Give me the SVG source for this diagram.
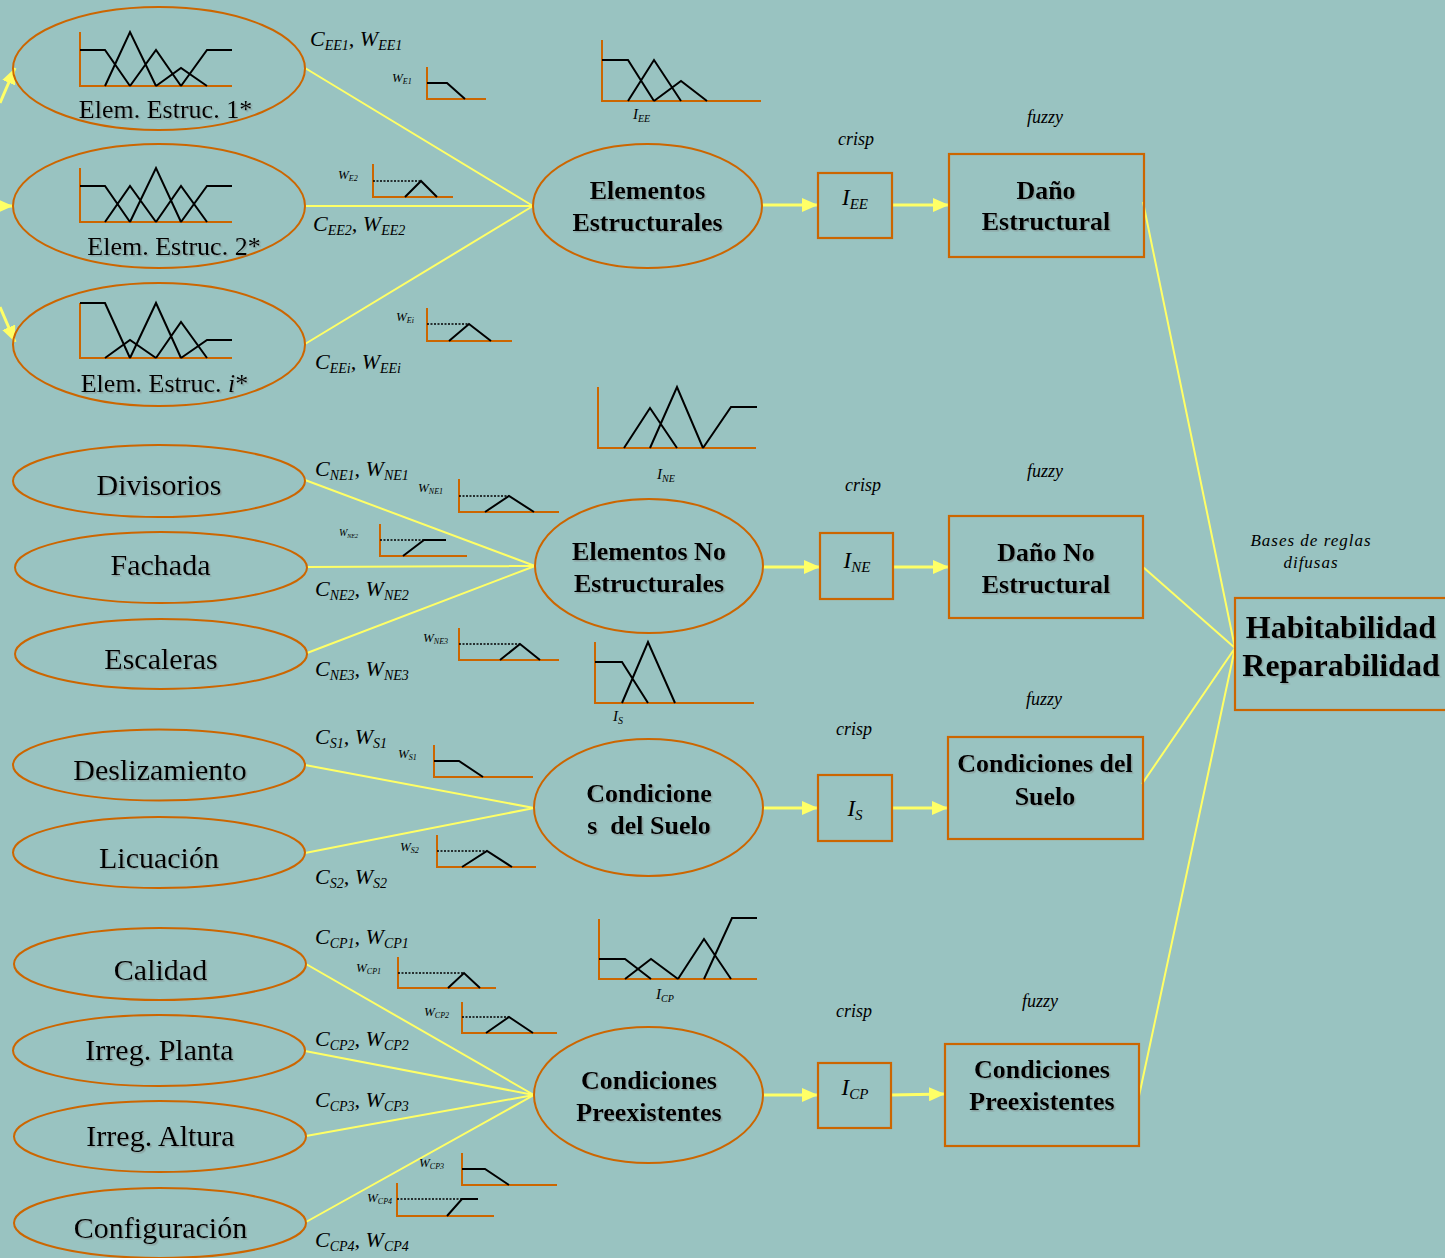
<svg xmlns="http://www.w3.org/2000/svg" width="1445" height="1258" viewBox="0 0 1445 1258">
<defs>
<marker id="ah" markerUnits="userSpaceOnUse" markerWidth="16" markerHeight="14" refX="16" refY="7" orient="auto"><path d="M0,0 L16,7 L0,14 z" fill="#FFFF66"/></marker>
<filter id="sh" x="-5%" y="-5%" width="110%" height="120%"><feDropShadow dx="1.5" dy="1.5" stdDeviation="0" flood-color="#777" flood-opacity="0.45"/></filter>
<style>
.bg{fill:#99C3C1}
.el{fill:none;stroke:#CC6600;stroke-width:2}
.bx{fill:none;stroke:#CC6600;stroke-width:2.2}
.ln{stroke:#FFFF66;stroke-width:2;fill:none}
.ar{stroke:#FFFF66;stroke-width:3;fill:none;marker-end:url(#ah)}
.ax{stroke:#CC6600;stroke-width:2;fill:none}
.cv{stroke:#000;stroke-width:2;fill:none}
.dt{stroke:#000;stroke-width:1.3;fill:none;stroke-dasharray:2 1.5}
.t{font-family:"Liberation Serif","Times New Roman",serif;fill:#000}
.lab{font-size:30px;text-anchor:middle;filter:url(#sh)}
.lab2{font-size:26px;text-anchor:middle;filter:url(#sh)}
.bd{font-size:26px;font-weight:bold;text-anchor:middle;filter:url(#sh)}
.big{font-size:32px}
.it{font-style:italic}
.cw{font-size:22px;font-style:italic}
.sw{font-size:13px;font-style:italic}
.sm{font-size:18px;font-style:italic}
.ib{font-size:23px;font-style:italic;text-anchor:middle}
.il{font-size:15px;font-style:italic}
</style>
</defs>
<rect class="bg" x="0" y="0" width="1445" height="1258"/>

<g id="connectors">
<path class="ar" d="M0,103 L15,68"/>
<path class="ar" d="M-5,206 L13,206"/>
<path class="ar" d="M0,307 L15,342"/>
<path class="ln" d="M305,68 L533,206 M305,206 L533,206 M305,344 L533,206"/>
<path class="ln" d="M305,480 L535,566 M307,567 L535,566 M307,653 L535,566"/>
<path class="ln" d="M305,765 L534,808 M305,853 L534,808"/>
<path class="ln" d="M306,964 L534,1095 M305,1051 L534,1095 M306,1136 L534,1095 M306,1222 L534,1095"/>
<path class="ar" d="M762,205 L818,205"/>
<path class="ar" d="M892,205 L949,205"/>
<path class="ar" d="M763,567 L820,567"/>
<path class="ar" d="M893,567 L949,567"/>
<path class="ar" d="M763,808 L818,808"/>
<path class="ar" d="M892,808 L948,808"/>
<path class="ar" d="M763,1095 L818,1095"/>
<path class="ar" d="M891,1095 L945,1094"/>
<path class="ln" d="M1143,202 L1235,648 M1143,567 L1235,648 M1142,784 L1235,648 M1139,1096 L1235,648"/>
</g>

<g id="edge-labels" class="t">
<text class="cw" x="310" y="46">C<tspan font-size="14" dy="4">EE1</tspan><tspan dy="-4">, W</tspan><tspan font-size="14" dy="4">EE1</tspan></text>
<text class="cw" x="313" y="231">C<tspan font-size="14" dy="4">EE2</tspan><tspan dy="-4">, W</tspan><tspan font-size="14" dy="4">EE2</tspan></text>
<text class="cw" x="315" y="369">C<tspan font-size="14" dy="4">EEi</tspan><tspan dy="-4">, W</tspan><tspan font-size="14" dy="4">EEi</tspan></text>
<text class="cw" x="315" y="476">C<tspan font-size="14" dy="4">NE1</tspan><tspan dy="-4">, W</tspan><tspan font-size="14" dy="4">NE1</tspan></text>
<text class="cw" x="315" y="596">C<tspan font-size="14" dy="4">NE2</tspan><tspan dy="-4">, W</tspan><tspan font-size="14" dy="4">NE2</tspan></text>
<text class="cw" x="315" y="676">C<tspan font-size="14" dy="4">NE3</tspan><tspan dy="-4">, W</tspan><tspan font-size="14" dy="4">NE3</tspan></text>
<text class="cw" x="315" y="744">C<tspan font-size="14" dy="4">S1</tspan><tspan dy="-4">, W</tspan><tspan font-size="14" dy="4">S1</tspan></text>
<text class="cw" x="315" y="884">C<tspan font-size="14" dy="4">S2</tspan><tspan dy="-4">, W</tspan><tspan font-size="14" dy="4">S2</tspan></text>
<text class="cw" x="315" y="944">C<tspan font-size="14" dy="4">CP1</tspan><tspan dy="-4">, W</tspan><tspan font-size="14" dy="4">CP1</tspan></text>
<text class="cw" x="315" y="1046">C<tspan font-size="14" dy="4">CP2</tspan><tspan dy="-4">, W</tspan><tspan font-size="14" dy="4">CP2</tspan></text>
<text class="cw" x="315" y="1107">C<tspan font-size="14" dy="4">CP3</tspan><tspan dy="-4">, W</tspan><tspan font-size="14" dy="4">CP3</tspan></text>
<text class="cw" x="315" y="1247">C<tspan font-size="14" dy="4">CP4</tspan><tspan dy="-4">, W</tspan><tspan font-size="14" dy="4">CP4</tspan></text>

<text class="sw" x="392" y="82">W<tspan font-size="8" dy="2">E1</tspan></text>
<text class="sw" x="338" y="179">W<tspan font-size="8" dy="2">E2</tspan></text>
<text class="sw" x="396" y="321">W<tspan font-size="8" dy="2">Ei</tspan></text>
<text class="sw" x="418" y="492">W<tspan font-size="8" dy="2">NE1</tspan></text>
<text class="sw" x="339" y="536" style="font-size:10px">W<tspan font-size="6" dy="2">NE2</tspan></text>
<text class="sw" x="423" y="642">W<tspan font-size="8" dy="2">NE3</tspan></text>
<text class="sw" x="398" y="758">W<tspan font-size="8" dy="2">S1</tspan></text>
<text class="sw" x="400" y="851">W<tspan font-size="8" dy="2">S2</tspan></text>
<text class="sw" x="356" y="972">W<tspan font-size="8" dy="2">CP1</tspan></text>
<text class="sw" x="424" y="1016">W<tspan font-size="8" dy="2">CP2</tspan></text>
<text class="sw" x="419" y="1167">W<tspan font-size="8" dy="2">CP3</tspan></text>
<text class="sw" x="367" y="1202">W<tspan font-size="8" dy="2">CP4</tspan></text>

<text class="il" x="633" y="119">I<tspan font-size="10" dy="3">EE</tspan></text>
<text class="il" x="657" y="479">I<tspan font-size="10" dy="3">NE</tspan></text>
<text class="il" x="613" y="721">I<tspan font-size="10" dy="3">S</tspan></text>
<text class="il" x="656" y="999">I<tspan font-size="10" dy="3">CP</tspan></text>

<text class="sm" x="838" y="145">crisp</text>
<text class="sm" x="1027" y="123">fuzzy</text>
<text class="sm" x="845" y="491">crisp</text>
<text class="sm" x="1027" y="477">fuzzy</text>
<text class="sm" x="836" y="735">crisp</text>
<text class="sm" x="1026" y="705">fuzzy</text>
<text class="sm" x="836" y="1017">crisp</text>
<text class="sm" x="1022" y="1007">fuzzy</text>
<text class="it" x="1311" y="546" style="font-size:17px" letter-spacing="1" text-anchor="middle">Bases de reglas</text>
<text class="it" x="1311" y="568" style="font-size:17px" letter-spacing="1" text-anchor="middle">difusas</text>
</g>

<g id="weight-charts">
<path class="ax" d="M427,67 V99 H486"/><path class="cv" d="M427,83 H447 L465,99"/>
<path class="ax" d="M373,164 V197 H453"/><path class="dt" d="M373,181 H421"/><path class="cv" d="M405,197 L421,181 L437,197"/>
<path class="ax" d="M427,308 V341 H512"/><path class="dt" d="M427,324 H469"/><path class="cv" d="M449,341 L469,324 L491,341"/>
<path class="ax" d="M459,479 V512 H559"/><path class="dt" d="M459,496 H509"/><path class="cv" d="M485,512 L509,496 L534,512"/>
<path class="ax" d="M380,524 V556 H467"/><path class="dt" d="M380,540 H424"/><path class="cv" d="M403,556 L424,540 H446"/>
<path class="ax" d="M459,628 V660 H559"/><path class="dt" d="M459,644 H520"/><path class="cv" d="M500,660 L520,644 L540,660"/>
<path class="ax" d="M434,745 V777 H533"/><path class="cv" d="M434,761 H459 L483,777"/>
<path class="ax" d="M437,835 V867 H536"/><path class="dt" d="M437,851 H487"/><path class="cv" d="M462,867 L487,851 L512,867"/>
<path class="ax" d="M398,957 V988 H496"/><path class="dt" d="M398,973 H464"/><path class="cv" d="M448,988 L464,973 L480,988"/>
<path class="ax" d="M462,1002 V1033 H557"/><path class="dt" d="M462,1017 H509"/><path class="cv" d="M486,1033 L509,1017 L533,1033"/>
<path class="ax" d="M462,1153 V1185 H557"/><path class="cv" d="M462,1169 H485 L509,1185"/>
<path class="ax" d="M397,1183 V1216 H494"/><path class="dt" d="M397,1199 H462"/><path class="cv" d="M447,1216 L462,1199 H478"/>
</g>

<g id="index-charts">
<path class="ax" d="M602,40 V101 H761"/>
<path class="cv" d="M602,60 H628 L654,101 M628,101 L654,60 L681,101 M654,101 L681,81 L707,101"/>
<path class="ax" d="M598,387 V448 H756"/>
<path class="cv" d="M624,448 L650,408 L677,448 M650,448 L677,387 L703,448 M703,448 L731,407 H757"/>
<path class="ax" d="M595,642 V703 H754"/>
<path class="cv" d="M595,662 H622 L648,703 M622,703 L648,642 L675,703"/>
<path class="ax" d="M599,919 V979 H757"/>
<path class="cv" d="M599,959 H625 L651,979 M625,979 L651,959 L678,979 M678,979 L704,939 L731,979 M704,979 L732,918 H757"/>
</g>

<g id="n-ee1">
<ellipse class="el" cx="159" cy="68.5" rx="146" ry="61.5"/>
<path class="ax" d="M80,32 V86 H232"/>
<path class="cv" d="M80,50 H105 L130,86 M105,86 L130,32 L156,86 M130,86 L156,50 L181,86 M156,86 L181,68 L207,86 M181,86 L207,50 H232"/>
<text class="t lab2" x="165.5" y="118">Elem. Estruc. 1*</text>
</g>
<g id="n-ee2">
<ellipse class="el" cx="159" cy="206" rx="146" ry="62"/>
<path class="ax" d="M80,168 V222 H232"/>
<path class="cv" d="M80,186 H105 L130,222 M105,222 L130,186 L156,222 M130,222 L156,168 L181,222 M156,222 L181,186 L207,222 M181,222 L207,186 H232"/>
<text class="t lab2" x="174" y="255">Elem. Estruc. 2*</text>
</g>
<g id="n-eei">
<ellipse class="el" cx="159" cy="344.5" rx="146" ry="61.5"/>
<path class="ax" d="M80,303 V358 H232"/>
<path class="cv" d="M80,303 H105 L130,358 M105,358 L130,340 L156,358 M130,358 L156,303 L181,358 M156,358 L181,322 L207,358 M181,358 L207,340 H232"/>
<text class="t lab2" x="164.5" y="392">Elem. Estruc. <tspan font-style="italic">i</tspan>*</text>
</g>

<g id="n-divisorios"><ellipse class="el" cx="159" cy="481" rx="146" ry="36"/><text class="t lab" x="159" y="495">Divisorios</text></g>
<g id="n-fachada"><ellipse class="el" cx="161" cy="567.5" rx="146" ry="35.5"/><text class="t lab" x="160.5" y="575">Fachada</text></g>
<g id="n-escaleras"><ellipse class="el" cx="161" cy="654" rx="146" ry="35"/><text class="t lab" x="161" y="669">Escaleras</text></g>
<g id="n-deslizamiento"><ellipse class="el" cx="159" cy="765" rx="146" ry="35.5"/><text class="t lab" x="160" y="780">Deslizamiento</text></g>
<g id="n-licuacion"><ellipse class="el" cx="159" cy="852.5" rx="146" ry="35.5"/><text class="t lab" x="159" y="868">Licuación</text></g>
<g id="n-calidad"><ellipse class="el" cx="160" cy="964" rx="146" ry="36"/><text class="t lab" x="160.5" y="980">Calidad</text></g>
<g id="n-irreg-planta"><ellipse class="el" cx="159" cy="1050.5" rx="146" ry="35.5"/><text class="t lab" x="159.5" y="1060">Irreg. Planta</text></g>
<g id="n-irreg-altura"><ellipse class="el" cx="160" cy="1136.5" rx="146" ry="35.5"/><text class="t lab" x="160.5" y="1146">Irreg. Altura</text></g>
<g id="n-configuracion"><ellipse class="el" cx="160" cy="1223" rx="146" ry="35"/><text class="t lab" x="160.5" y="1238">Configuración</text></g>

<g id="n-elementos-estructurales">
<ellipse class="el" cx="647.5" cy="206" rx="114.5" ry="62"/>
<text class="t bd" x="647.5" y="199">Elementos</text>
<text class="t bd" x="647.5" y="231">Estructurales</text>
</g>
<g id="n-elementos-no-estructurales">
<ellipse class="el" cx="649" cy="566" rx="114" ry="67"/>
<text class="t bd" x="649" y="560">Elementos No</text>
<text class="t bd" x="649" y="592">Estructurales</text>
</g>
<g id="n-condiciones-suelo">
<ellipse class="el" cx="648.5" cy="807.5" rx="114.5" ry="68.5"/>
<text class="t bd" x="649" y="802">Condicione</text>
<text class="t bd" x="649" y="834" xml:space="preserve">s  del Suelo</text>
</g>
<g id="n-condiciones-preexistentes">
<ellipse class="el" cx="648.5" cy="1095" rx="114.5" ry="68"/>
<text class="t bd" x="649" y="1089">Condiciones</text>
<text class="t bd" x="649" y="1121">Preexistentes</text>
</g>

<g id="n-iee"><rect class="bx" x="818" y="173" width="74" height="65"/><text class="t ib" x="855" y="205">I<tspan font-size="15" dy="4">EE</tspan></text></g>
<g id="n-ine"><rect class="bx" x="820" y="533" width="73" height="66"/><text class="t ib" x="857" y="568">I<tspan font-size="15" dy="4">NE</tspan></text></g>
<g id="n-is"><rect class="bx" x="818" y="775" width="74" height="66"/><text class="t ib" x="855" y="816">I<tspan font-size="15" dy="4">S</tspan></text></g>
<g id="n-icp"><rect class="bx" x="818" y="1063" width="73" height="65"/><text class="t ib" x="855" y="1095">I<tspan font-size="15" dy="4">CP</tspan></text></g>

<g id="n-dano-estructural"><rect class="bx" x="949" y="154" width="195" height="103"/><text class="t bd" x="1046" y="199">Daño</text><text class="t bd" x="1046" y="230">Estructural</text></g>
<g id="n-dano-no-estructural"><rect class="bx" x="949" y="516" width="194" height="102"/><text class="t bd" x="1046" y="561">Daño No</text><text class="t bd" x="1046" y="593">Estructural</text></g>
<g id="n-cond-suelo-box"><rect class="bx" x="948" y="737" width="195" height="102"/><text class="t bd" x="1045" y="772">Condiciones del</text><text class="t bd" x="1045" y="805">Suelo</text></g>
<g id="n-cond-preex-box"><rect class="bx" x="945" y="1044" width="194" height="102"/><text class="t bd" x="1042" y="1078">Condiciones</text><text class="t bd" x="1042" y="1110">Preexistentes</text></g>

<g id="n-habitabilidad"><rect class="bx" x="1235" y="598" width="220" height="112"/><text class="t bd big" x="1341" y="638">Habitabilidad</text><text class="t bd big" x="1341" y="676">Reparabilidad</text></g>
</svg>
